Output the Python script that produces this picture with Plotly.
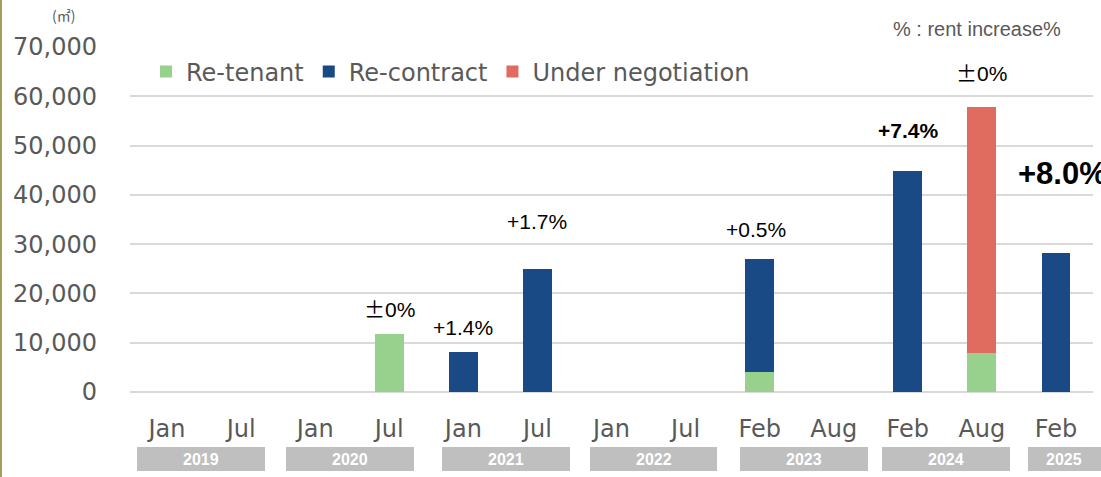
import plotly.graph_objects as go

# ---- data ----
months = ["Jan", "Jul", "Jan", "Jul", "Jan", "Jul", "Jan", "Jul", "Feb", "Aug", "Feb", "Aug", "Feb"]
re_tenant = [0, 0, 0, 11800, 0, 0, 0, 0, 4000, 0, 0, 7900, 0]
re_contract = [0, 0, 0, 0, 8100, 25000, 0, 0, 23000, 0, 44800, 0, 28200]
under_negotiation = [0, 0, 0, 0, 0, 0, 0, 0, 0, 0, 0, 49900, 0]
years = ["2019", "2020", "2021", "2022", "2023", "2024", "2025"]
rent_labels = ["±0%", "+1.4%", "+1.7%", "+0.5%", "+7.4%", "±0%"]
rent_label_idx = [3, 4, 5, 8, 10, 11]
overall_label = "+8.0%"

x = list(range(len(months)))

fig = go.Figure()
colors = {"Re-tenant": "#98d08d", "Re-contract": "#1a4a86", "Under negotiation": "#e06c5f"}
for name, vals in [("Re-tenant", re_tenant), ("Re-contract", re_contract),
                   ("Under negotiation", under_negotiation)]:
    fig.add_trace(go.Bar(x=x, y=vals, name=name, marker_color=colors[name],
                         marker_line_width=0, width=0.39))

W, H = 1101, 477
L, R, T, B = 130, 8, 47, 85
pw = W - L - R
ph = H - T - B

def px_x(p):
    return (p - L) / pw

def px_y(p):
    return (H - B - p) / ph

shapes = []
annotations = []

# year boxes (pixel extents)
box_px = [(137, 265), (286, 414), (442, 570), (590, 717), (740, 868), (882, 1010), (1028, 1101)]
for (a, b), yr in zip(box_px, years):
    shapes.append(dict(type="rect", xref="paper", yref="paper",
                       x0=px_x(a), x1=px_x(b), y0=px_y(471), y1=px_y(447),
                       fillcolor="#bfbfbf", line_width=0, layer="above"))
    cx = (a + b) / 2 if yr != "2025" else 1064
    annotations.append(dict(xref="paper", yref="paper", x=px_x(cx), y=px_y(460),
                            text=f"<b>{yr}</b>", showarrow=False,
                            font=dict(family="Liberation Sans, Arial", size=16, color="white"),
                            xanchor="center", yanchor="middle"))

# left border
shapes.append(dict(type="line", xref="paper", yref="paper", x0=px_x(1), x1=px_x(1),
                   y0=px_y(H), y1=px_y(0), line=dict(color="#a09f5a", width=2)))

# rent labels
label_y = [17000, 13000, 34500, 32900, 53150, 64900]
for i, t, yv in zip(rent_label_idx, rent_labels, label_y):
    bold = t == "+7.4%"
    txt = t.replace("±", "<span style='font-family:Noto Sans CJK JP'>±</span>")
    annotations.append(dict(x=i - (0.05 if i == 8 else 0), y=yv, xref="x", yref="y",
                            text=f"<b>{txt}</b>" if bold else txt, showarrow=False,
                            font=dict(family="Liberation Sans, Arial", size=21, color="black"),
                            xanchor="center", yanchor="middle"))

annotations.append(dict(x=11.46, y=44400, xref="x", yref="y", text=f"<b>{overall_label}</b>",
                        showarrow=False, xanchor="left", yanchor="middle",
                        font=dict(family="Liberation Sans, Arial", size=31, color="black")))

annotations.append(dict(xref="paper", yref="paper", x=px_x(977), y=px_y(29),
                        text="% : rent increase%", showarrow=False,
                        xanchor="center", yanchor="middle",
                        font=dict(family="Liberation Sans, Arial", size=20, color="#595959")))
annotations.append(dict(xref="paper", yref="paper", x=px_x(63), y=px_y(15),
                        text="(㎡)", showarrow=False, xanchor="center", yanchor="middle",
                        font=dict(family="Noto Sans CJK JP", size=14, color="#595959")))

fig.update_layout(
    width=W, height=H,
    margin=dict(l=L, r=R, t=T, b=B),
    paper_bgcolor="white", plot_bgcolor="white",
    barmode="stack",
    showlegend=True,
    legend=dict(orientation="h", x=px_x(146), y=px_y(72), xanchor="left", yanchor="middle",
                font=dict(family="DejaVu Sans", size=24, color="#595959"),
                bgcolor="rgba(0,0,0,0)", itemwidth=30, traceorder="normal"),
    xaxis=dict(tickmode="array", tickvals=x, ticktext=months, range=[-0.5, 12.5],
               showgrid=False, showline=False, zeroline=False, ticks="",
               ticklabelstandoff=20,
               tickfont=dict(family="DejaVu Sans", size=24, color="#595959")),
    yaxis=dict(range=[0, 70000], tickvals=list(range(0, 70001, 10000)),
               tickformat=",", showgrid=True, gridcolor="#d9d9d9", gridwidth=2,
               zeroline=True, zerolinecolor="#d9d9d9", zerolinewidth=2,
               ticks="", ticklabelstandoff=32,
               tickfont=dict(family="DejaVu Sans", size=24, color="#595959")),
    shapes=shapes,
    annotations=annotations,
    bargap=0.61,
)

fig.write_html("out.html", config={"displayModeBar": False},
               post_script="document.body.style.margin='0px';document.body.style.overflow='hidden';")
